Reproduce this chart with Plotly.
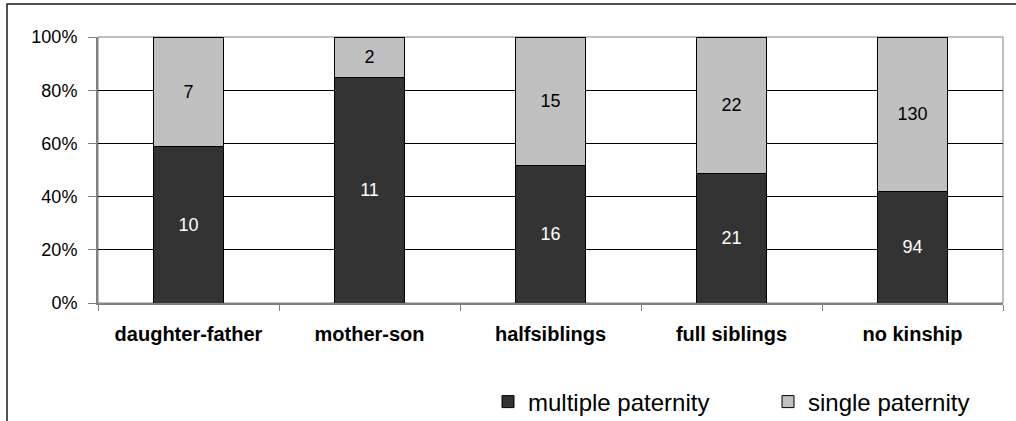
import plotly.graph_objects as go

categories = ["daughter-father", "mother-son", "halfsiblings", "full siblings", "no kinship"]
multiple_paternity = [10, 11, 16, 21, 94]
single_paternity = [7, 2, 15, 22, 130]
tick_vals = [0, 20, 40, 60, 80, 100]
tick_text = ["0%", "20%", "40%", "60%", "80%", "100%"]

FONT = "Liberation Sans, Arial, sans-serif"

fig = go.Figure()
fig.add_trace(go.Bar(
    x=categories, y=multiple_paternity, name="multiple paternity",
    marker=dict(color="#333333", line=dict(color="#000000", width=1)),
    text=[str(v) for v in multiple_paternity], textposition="inside",
    insidetextanchor="middle", textangle=0,
    textfont=dict(color="#ffffff", size=18, family=FONT),
))
fig.add_trace(go.Bar(
    x=categories, y=single_paternity, name="single paternity",
    marker=dict(color="#c0c0c0", line=dict(color="#000000", width=1)),
    text=[str(v) for v in single_paternity], textposition="inside",
    insidetextanchor="middle", textangle=0,
    textfont=dict(color="#000000", size=18, family=FONT),
))

L, R, T, B = 98, 1003, 37, 303
W, H = 1016, 421

def px_x(p):
    return (p - L) / (R - L)

def px_y(p):
    return (B - p) / (B - T)

fig.update_layout(
    width=W, height=H,
    barmode="stack", barnorm="percent", bargap=0.608,
    margin=dict(l=L, r=W - R, t=T, b=H - B, pad=0, autoexpand=False),
    paper_bgcolor="#ffffff", plot_bgcolor="#ffffff",
    font=dict(family=FONT, size=18, color="#000000"),
    showlegend=True,
    legend=dict(
        orientation="h", x=px_x(488), xanchor="left", y=px_y(402), yanchor="middle",
        font=dict(size=24, family=FONT, color="#000000"),
        itemwidth=30, entrywidth=235, entrywidthmode="pixels",
        bgcolor="rgba(0,0,0,0)", traceorder="normal", borderwidth=0,
    ),
    uniformtext=dict(mode=False),
    shapes=[
        dict(type="rect", xref="paper", yref="paper", x0=0, x1=1, y0=0, y1=1,
             line=dict(color="#808080", width=1), layer="below"),
        dict(type="rect", xref="paper", yref="paper",
             x0=px_x(7), x1=px_x(1040), y0=px_y(4), y1=px_y(460),
             line=dict(color="#1a1a1a", width=1.5), layer="above"),
    ],
)

fig.update_xaxes(
    type="category", showgrid=False, showline=True, linecolor="#808080", linewidth=2,
    ticks="outside", tickson="boundaries", ticklen=6, tickcolor="#808080", tickwidth=1,
    tickfont=dict(size=20, family=FONT, color="#000000", weight="bold"),
    ticklabelstandoff=12, zeroline=False,
)
fig.update_yaxes(
    range=[0, 100], tickvals=tick_vals, ticktext=tick_text,
    showgrid=True, gridcolor="#000000", gridwidth=1,
    showline=True, linecolor="#808080", linewidth=2,
    ticks="outside", ticklen=8, tickcolor="#808080", tickwidth=1,
    tickfont=dict(size=18, family=FONT, color="#000000"),
    ticklabelstandoff=7, zeroline=False,
)

fig.write_html("out.html", config={"displayModeBar": False},
               post_script="document.body.style.margin='0';")
